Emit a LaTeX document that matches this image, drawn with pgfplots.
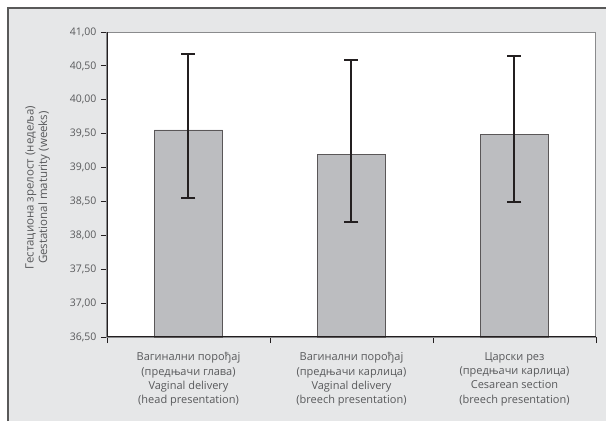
\documentclass[border=0pt]{standalone}
\usepackage{pgfplots}
\pgfplotsset{compat=1.18}
\usepackage{fontspec}
\setmainfont{Open Sans}
\definecolor{bgc}{HTML}{E6E7E8}
\definecolor{txt}{HTML}{58595B}
\definecolor{barc}{HTML}{BCBDC0}
\definecolor{axc}{HTML}{231F20}
\definecolor{frm}{HTML}{8A8B8D}
\begin{document}
\begin{tikzpicture}[x=1pt,y=1pt]
\useasboundingbox (0,0) rectangle (606,421);
\fill[bgc] (8,0) rectangle (606,413);
\draw[line width=1.8pt, color=gray!70!black] (8,0) -- (8,413) -- (606,413);
\begin{axis}[
  at={(107pt,84pt)}, anchor=south west,
  width=489pt, height=305pt, scale only axis,
  xmin=-0.5, xmax=2.5, ymin=36.5, ymax=41,
  axis background/.style={fill=white},
  axis line style={draw=frm, line width=1pt},
  ytick={36.5,37,37.5,38,38.5,39,39.5,40,40.5,41},
  ytick pos=left, xtick pos=bottom,
  tick align=outside,
  major tick length=6pt, minor tick length=6pt,
  tick style={color=axc, line width=0.8pt},
  xtick={0,1,2},
  major x tick style={draw=none},
  minor xtick={-0.5,0.5,1.5,2.5},
  xticklabels={{Вагинални порођај\\(предњачи глава)\\Vaginal delivery\\(head presentation)},
               {Вагинални порођај\\(предњачи карлица)\\Vaginal delivery\\(breech presentation)},
               {Царски рез\\(предњачи карлица)\\Cesarean section\\(breech presentation)}},
  xticklabel style={align=center, text=txt, font=\fontsize{11}{14.3}\selectfont, yshift=-6pt},
  yticklabel style={text=txt, font=\fontsize{10.5}{12}\selectfont, xshift=-1pt},
  yticklabel={\pgfmathprintnumber[fixed, fixed zerofill, precision=2, use comma, assume math mode=true]{\tick}},
  ylabel={Гестациона зрелост (недеља)\\Gestational maturity (weeks)},
  ylabel style={align=center, at={(axis description cs:-0.142,0.49)}, anchor=center, text=txt, font=\fontsize{11.5}{13.5}\selectfont},
]
\addplot[ybar, bar width=0.42, bar shift=0pt, fill=barc, draw=axc!75, line width=0.8pt,
  error bars/.cd, y dir=both, y explicit,
  error bar style={line width=2pt, color=axc},
  error mark options={rotate=90, line width=2pt, mark size=7pt, color=axc}]
  coordinates {
    (0,39.555) += (0,1.12) -= (0,1.0)
    (1,39.20) += (0,1.38) -= (0,1.01)
    (2,39.49) += (0,1.15) -= (0,1.0)
  };
\end{axis}
\draw[axc, line width=1pt] (107,389) -- (107,84) -- (596,84);
\end{tikzpicture}
\end{document}
